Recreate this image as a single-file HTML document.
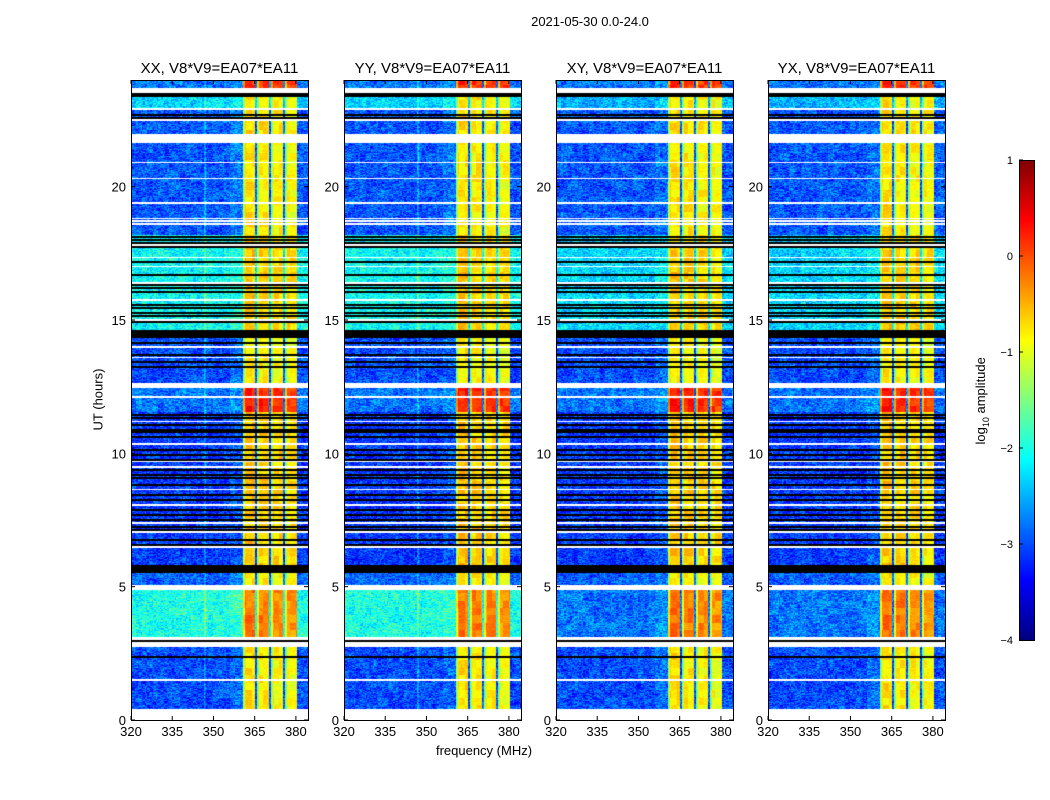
<!DOCTYPE html>
<html><head><meta charset="utf-8"><style>
body{margin:0;background:#fff;font-family:"Liberation Sans",sans-serif;}
#root{position:relative;width:1050px;height:800px;overflow:hidden;}
.t{position:absolute;white-space:nowrap;color:#000;}
canvas{position:absolute;}
</style></head><body>
<div id="root">
<div class="t" style="left:490px;top:14px;width:200px;text-align:center;font-size:13px;">2021-05-30 0.0-24.0</div>
<div class="t" style="left:48px;top:392px;width:100px;text-align:center;font-size:13px;transform:rotate(-90deg);">UT (hours)</div>
<div class="t" style="left:414px;top:743px;width:140px;text-align:center;font-size:13px;">frequency (MHz)</div>
<div class="t" style="left:922px;top:392px;width:120px;text-align:center;font-size:13px;transform:rotate(-90deg);">log<sub style="font-size:9px">10</sub> amplitude</div>
<canvas id="cb" width="15" height="480" style="left:1019px;top:160px;"></canvas>
<svg id="ov" width="1050" height="800" style="position:absolute;left:0;top:0"></svg>
</div>
<script>
const panelTitles=["XX, V8*V9=EA07*EA11","YY, V8*V9=EA07*EA11","XY, V8*V9=EA07*EA11","YX, V8*V9=EA07*EA11"];
const panelLefts=[131,344,556,768];
const xTicks=[320,335,350,365,380];
const yTicks=[0,5,10,15,20];
const cbTicks=[1,0,-1,-2,-3,-4];
// time bands: start hour (top), end hour, background log amplitude, RFI log amplitude, cross-pol background
const bandStart=[24.0,23.36,22.87,21.64,18.19,14.32,12.45,11.55,5.51,4.87,2.74];
const bandEnd=[23.70,22.95,21.97,18.19,14.62,12.64,11.55,5.81,5.06,3.11,0.41];
const bandBg=[-2.8,-2.3,-2.95,-2.95,-2.1,-3.0,-2.8,-3.1,-2.9,-2.0,-3.0];
const bandRfi=[0.1,-0.85,-0.8,-0.85,-0.7,-0.9,0.15,-0.7,-0.85,-0.3,-0.85];
const bandBgCross=[-2.8,-2.5,-2.95,-2.95,-2.3,-3.0,-2.8,-3.1,-2.9,-2.8,-3.0];
// flagged ranges
const thickBlackStart=[23.51,14.62,5.81], thickBlackEnd=[23.36,14.32,5.51];
const thinBlack=[22.69,22.57,18.11,18.0,17.89,17.74,17.17,16.69,16.31,16.20,16.05,15.56,15.45,15.26,15.15,14.93,14.14,13.69,13.43,13.24,11.44,11.33,11.06,10.87,10.80,10.61,10.13,9.94,9.75,9.38,9.19,9.08,8.81,8.44,8.25,7.88,7.69,7.50,7.24,7.13,6.75,6.56,2.36,2.96];
const thinWhite=[22.50,20.92,20.32,19.39,18.82,18.71,18.60,17.81,17.33,17.02,16.39,15.75,15.0,13.99,13.58,12.11,11.18,10.35,9.71,9.49,8.63,8.06,7.39,7.05,6.49,1.50];
// RFI lanes (MHz) and their offsets
const laneStart=[360.7,365.9,371.0,376.1];
const laneEnd=[365.2,370.3,375.4,380.4];
const laneOffset=[0.1,0.05,0.0,-0.05];
const fMin=320,fMax=384.4,tMin=0,tMax=24,vMin=-4,vMax=1;
const W=177,H=640,TOP=80;
const xS=f=>(f-fMin)/(fMax-fMin)*W, yS=h=>(tMax-h)/(tMax-tMin)*H;
function jet(v){let t=(v-vMin)/(vMax-vMin);t=Math.max(0,Math.min(1,t));
 const c=x=>Math.round(255*Math.max(0,Math.min(1,x)));
 return [c(1.5-Math.abs(4*t-3)),c(1.5-Math.abs(4*t-2)),c(1.5-Math.abs(4*t-1))];}
function hash(a,b,c){let h=(a*374761393+b*668265263+c*2147483647)|0;h=(h^(h>>>13))*1274126177|0;return ((h^(h>>>16))>>>0)/4294967295;}
function flagAt(h){
 for(let i=0;i<thickBlackStart.length;i++) if(h<=thickBlackStart[i]&&h>=thickBlackEnd[i]) return 'b';
 for(const c of thinBlack) if(Math.abs(h-c)<0.035) return 'b';
 for(const c of thinWhite) if(Math.abs(h-c)<0.022) return 'w';
 return null;}
function bandAt(h){for(let i=0;i<bandStart.length;i++) if(h<=bandStart[i]&&h>=bandEnd[i]) return i;return -1;}
const ov=document.getElementById('ov');const NS="http://www.w3.org/2000/svg";
function el(tag,attrs,txt){const e=document.createElementNS(NS,tag);for(const k in attrs)e.setAttribute(k,attrs[k]);if(txt!==undefined)e.textContent=txt;ov.appendChild(e);return e;}
panelLefts.forEach((L,p)=>{
 const cv=document.createElement('canvas');cv.width=W;cv.height=H;cv.style.left=L+'px';cv.style.top=TOP+'px';
 
 
 document.getElementById('root').insertBefore(cv,ov);
 const ctx=cv.getContext('2d');const img=ctx.createImageData(W,H);
 const cross=p>=2;
 for(let y=0;y<H;y++){
  const h=tMax-(y+0.5)/H*(tMax-tMin);const row=Math.floor(h/0.035);
  const fl=flagAt(h);const bi=bandAt(h);
  for(let x=0;x<W;x++){
   const f=fMin+(x+0.5)/W*(fMax-fMin);const ch=Math.floor(f/0.5);
   let col;
   if(fl==='b') col=[0,0,0];
   else if(fl==='w'||bi<0) col=[255,255,255];
   else{
    const n=hash(ch,row,p)-0.5, n2=hash(row>>3,ch>>2,p+7)-0.5;
    let bg=(cross?bandBgCross[bi]:bandBg[bi]);
    let v=bg+n*0.8+n2*0.3;
    if(f>356&&f<360.7) v+=0.15;
    if(Math.abs(f-347)<0.3&&!cross) v+=0.4;
    for(let k=0;k<laneStart.length;k++){
     if(f>=laneStart[k]&&f<=laneEnd[k]){v=bandRfi[bi]+laneOffset[k]+n*0.2+n2*0.4;
      if(f-laneStart[k]<0.6) v-=0.6;}
    }
    col=jet(v);
   }
   const o=(y*W+x)*4;img.data[o]=col[0];img.data[o+1]=col[1];img.data[o+2]=col[2];img.data[o+3]=255;
  }}
 ctx.putImageData(img,0,0);
 el('rect',{x:L+0.5,y:TOP+0.5,width:W,height:H,fill:'none',stroke:'#000','stroke-width':1,});
 el('text',{x:L+W/2,y:TOP-7,'text-anchor':'middle','font-size':15,'font-family':'Liberation Sans',},panelTitles[p]);
 xTicks.forEach(t=>{const x=L+xS(t);
  el('line',{x1:x,x2:x,y1:TOP+H,y2:TOP+H-4,stroke:'#000'});
  el('line',{x1:x,x2:x,y1:TOP,y2:TOP+4,stroke:'#000'});
  el('text',{x:x,y:TOP+H+16,'text-anchor':'middle','font-size':13,'font-family':'Liberation Sans',},t);});
 yTicks.forEach(t=>{const y=TOP+yS(t);
  el('line',{x1:L,x2:L+4,y1:y,y2:y,stroke:'#000'});
  el('line',{x1:L+W,x2:L+W-4,y1:y,y2:y,stroke:'#000'});
  el('text',{x:L-5,y:y+5,'text-anchor':'end','font-size':13,'font-family':'Liberation Sans',},t);});
});
const cb=document.getElementById('cb').getContext('2d');
for(let y=0;y<480;y++){const v=vMax-(y+0.5)/480*(vMax-vMin);const c=jet(v);cb.fillStyle=`rgb(${c[0]},${c[1]},${c[2]})`;cb.fillRect(0,y,15,1);}
el('rect',{x:1019.5,y:160.5,width:15,height:480,fill:'none',stroke:'#000',});
cbTicks.forEach(t=>{const y=160+(vMax-t)/(vMax-vMin)*480;
 el('line',{x1:1019,x2:1023,y1:y,y2:y,stroke:'#000'});
 el('text',{x:1013,y:y+4,'text-anchor':'end','font-size':11,'font-family':'Liberation Sans',},t<0?'\u2212'+(-t):t);});
</script>
</body></html>
